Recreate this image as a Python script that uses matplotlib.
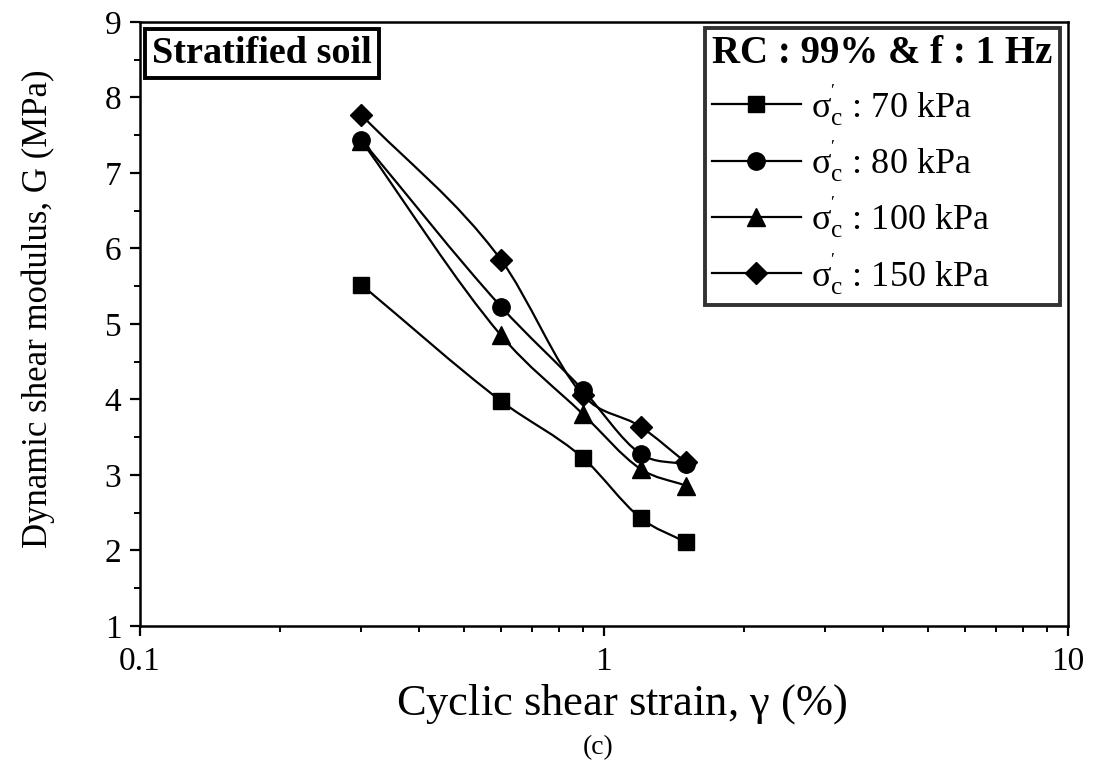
import numpy as np
import matplotlib
matplotlib.use('Agg')
import matplotlib.pyplot as plt
from matplotlib.path import Path
from matplotlib.patches import PathPatch
from matplotlib.ticker import MultipleLocator, FixedLocator, NullFormatter

plt.rcParams['font.family'] = ['Liberation Serif', 'DejaVu Serif']
plt.rcParams['mathtext.fontset'] = 'custom'
plt.rcParams['mathtext.rm'] = 'Liberation Serif'
plt.rcParams['mathtext.it'] = 'Liberation Serif:italic'

# cyclic shear strain (%) and shear modulus G (MPa) per confining pressure
strain = [0.3, 0.6, 0.9, 1.2, 1.5]
g_70 = [5.52, 3.98, 3.23, 2.43, 2.11]
g_80 = [7.44, 5.23, 4.13, 3.28, 3.14]
g_100 = [7.43, 4.85, 3.81, 3.08, 2.86]
g_150 = [7.77, 5.85, 4.06, 3.64, 3.17]
pressures = ['70', '80', '100', '150']
markers = ['s', 'o', '^', 'D']
msizes = [12, 12.5, 12.5, 11]


def spline_path(x, y):
    # cubic Hermite through the points (log-x), as Bezier segments
    lx = np.log10(x)
    y = np.asarray(y, dtype=float)
    sec = np.diff(y) / np.diff(lx)
    m = np.empty_like(y)
    m[0], m[-1] = sec[0], sec[-1]
    m[1:-1] = (sec[:-1] + sec[1:]) / 2
    verts = [(x[0], y[0])]
    codes = [Path.MOVETO]
    for i in range(len(lx) - 1):
        h = (lx[i + 1] - lx[i]) / 3
        verts += [(10 ** (lx[i] + h), y[i] + m[i] * h),
                  (10 ** (lx[i + 1] - h), y[i + 1] - m[i + 1] * h),
                  (x[i + 1], y[i + 1])]
        codes += [Path.CURVE4] * 3
    return Path(verts, codes)


fig = plt.figure(figsize=(10.94, 7.61), dpi=100)
ax = fig.add_axes([0.128, 0.1774, 0.848, 0.7937])

labels = [r"$\mathrm{σ}_{\mathrm{c}}^{'}$ : " + p + " kPa" for p in pressures]
for g, lab, m, ms in zip([g_70, g_80, g_100, g_150], labels, markers, msizes):
    ax.add_patch(PathPatch(spline_path(strain, g), facecolor='none',
                           edgecolor='black', lw=1.6))
    ax.plot(strain, g, linestyle='none', marker=m, markersize=ms,
            color='black')

handles = [plt.Line2D([], [], color='black', lw=1.6, marker=m, markersize=ms)
           for m, ms in zip(markers, msizes)]
leg = ax.legend(handles, labels, loc='upper right',
                bbox_to_anchor=(0.9914, 0.990), borderaxespad=0,
                fontsize=26, title='RC : 99% & f : 1 Hz',
                title_fontproperties={'weight': 'bold', 'size': 28},
                frameon=True, fancybox=False, edgecolor='black',
                handlelength=2.45, handletextpad=0.28, labelspacing=0.26,
                borderpad=0.2)
leg.get_frame().set_linewidth(2.8)
leg._legend_box.align = 'left'

ax.text(0.0129, 0.977, 'Stratified soil', transform=ax.transAxes,
        fontsize=27.5, fontweight='bold', va='top', ha='left',
        bbox=dict(boxstyle='square,pad=0.18', facecolor='white',
                  edgecolor='black', linewidth=2.8))

ax.set_xscale('log')
ax.set_xlim(0.1, 10)
ax.set_ylim(1, 9)
ax.xaxis.set_major_locator(FixedLocator([0.1, 1, 10]))
ax.set_xticklabels(['0.1', '1', '10'])
ax.xaxis.set_minor_locator(FixedLocator([k * d for d in (0.1, 1)
                                         for k in range(2, 10)]))
ax.xaxis.set_minor_formatter(NullFormatter())
ax.yaxis.set_major_locator(MultipleLocator(1))
ax.yaxis.set_minor_locator(MultipleLocator(0.5))

ax.tick_params(axis='both', which='major', direction='out', length=7.5,
               width=1.6, labelsize=24, top=False, right=False)
ax.tick_params(axis='both', which='minor', direction='out', length=4.5,
               width=1.4, top=False, right=False)
ax.tick_params(axis='x', pad=7)
ax.tick_params(axis='y', pad=6)
for s in ax.spines.values():
    s.set_linewidth(1.8)

ax.set_xlabel(r'Cyclic shear strain, $\mathrm{γ}$ (%)', fontsize=32)
ax.xaxis.set_label_coords(0.519, -0.092)
ax.set_ylabel('Dynamic shear modulus, G (MPa)', fontsize=25)
ax.yaxis.set_label_coords(-0.092, 0.526)

fig.text(0.547, 0.017, '(c)', fontsize=20, ha='center', va='center')

fig.savefig('out.png', dpi=100)
